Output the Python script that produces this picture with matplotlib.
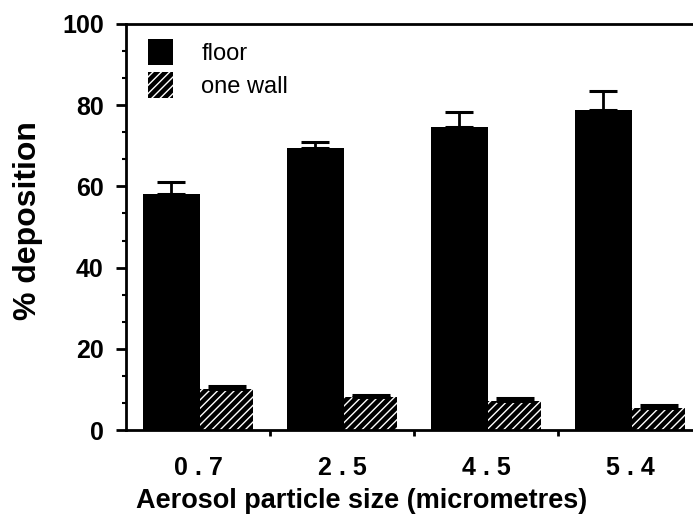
import matplotlib
matplotlib.use("Agg")
import matplotlib.pyplot as plt
import numpy as np

# data
sizes = ["0 . 7", "2 . 5", "4 . 5", "5 . 4"]
floor = [58.1, 69.5, 74.6, 78.8]
floor_err = [3.0, 1.4, 3.7, 4.7]
wall = [10.1, 8.2, 7.1, 5.4]
wall_err = [0.7, 0.3, 0.8, 0.8]

plt.rcParams['font.family'] = ['Liberation Sans', 'DejaVu Sans']
plt.rcParams['hatch.linewidth'] = 1.0

fig = plt.figure(figsize=(6.93, 5.15), dpi=100)
ax = fig.add_axes([126/693, 1 - 430/515, 567/693, 406/515])

x = np.arange(len(sizes))
fw, ww = 0.395, 0.37
fx = x + 0.118
wx = x + 0.513

ax.bar(fx, floor, width=fw, align='edge', color='black', linewidth=0, label='floor')
ax.bar(wx, wall, width=ww, align='edge', facecolor='black', edgecolor='white',
       hatch='////', linewidth=0, label='one wall')

ax.errorbar(fx + fw/2, floor, yerr=[np.zeros(4), floor_err], fmt='none',
            ecolor='black', elinewidth=2, capsize=10, capthick=2.2)
ax.errorbar(wx + ww/2, wall, yerr=[np.zeros(4), wall_err], fmt='none',
            ecolor='black', elinewidth=2, capsize=14, capthick=2.2)

ax.set_xlim(0, 567/144)
ax.set_ylim(0, 100)

for s in ['left', 'bottom', 'top']:
    ax.spines[s].set_linewidth(2)
ax.spines['right'].set_visible(False)

ax.set_yticks(np.arange(0, 101, 20))
ax.set_yticks(np.arange(0, 100, 20/3), minor=True)
ax.tick_params(axis='y', which='major', direction='out', length=7, width=2,
               pad=9, labelsize=18)
ax.tick_params(axis='y', which='minor', direction='out', length=3, width=1.5)
for t in ax.get_yticklabels():
    t.set_fontweight('bold')

ax.set_xticks([1, 2, 3])
ax.set_xticklabels([])
ax.set_xticks(x + 0.5, minor=True)
ax.set_xticklabels(sizes, minor=True, fontsize=18, fontweight='bold')
ax.tick_params(axis='x', which='major', direction='out', length=4.5, width=2)
ax.tick_params(axis='x', which='minor', length=0, pad=19)

ax.set_xlabel('Aerosol particle size (micrometres)', fontsize=19.5, fontweight='bold')
ax.xaxis.set_label_coords(0.416, -0.142)
ax.set_ylabel('% deposition', fontsize=23, fontweight='bold')
ax.yaxis.set_label_coords(-0.147, 0.515)

ax.legend(loc='upper left', bbox_to_anchor=(0.039, 0.962), frameon=False,
          fontsize=17, handlelength=1.05, handleheight=1.3, handletextpad=1.2,
          labelspacing=0.3, borderpad=0, borderaxespad=0)

fig.savefig('out.png', dpi=100)
